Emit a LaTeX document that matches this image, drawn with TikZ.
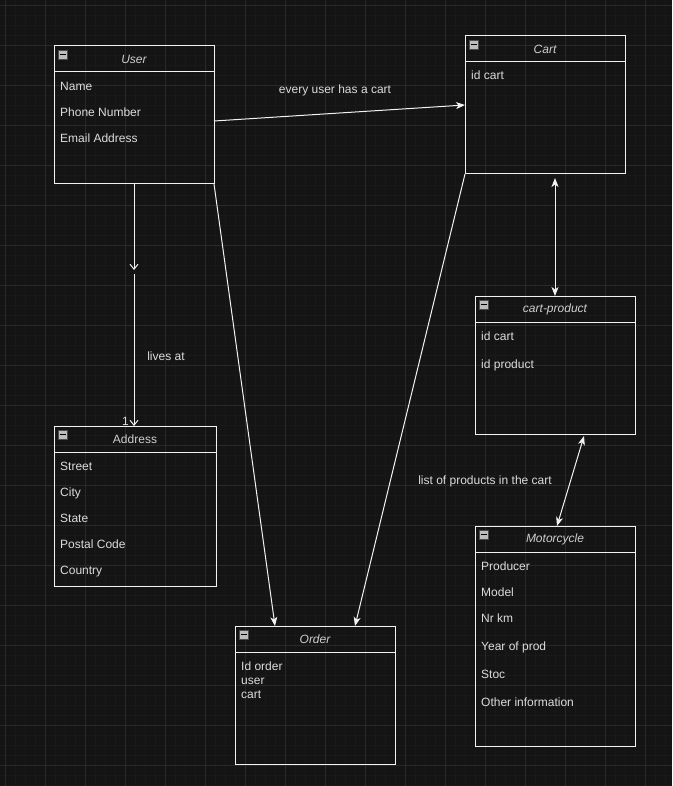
\documentclass[tikz,border=0pt]{standalone}
\usepackage{fontspec}
\setmainfont{Liberation Sans}
\usetikzlibrary{arrows.meta,calc}
\definecolor{bg}{HTML}{141414}
\definecolor{gridminor}{HTML}{191919}
\definecolor{gridmajor}{HTML}{292929}
\definecolor{fg}{HTML}{F2F2F2}
\definecolor{txt}{HTML}{DCDCDC}
\definecolor{ttl}{HTML}{CFCFCF}
\definecolor{icon}{HTML}{BDBDBD}

\tikzset{
  classbox/.style={draw=fg, line width=1pt, rectangle, inner sep=0pt, outer sep=0pt},
  titletext/.style={text=ttl, font=\fontsize{12}{14}\selectfont, inner sep=0pt},
  fieldtext/.style={text=txt, font=\fontsize{12}{14}\selectfont, inner sep=0pt, anchor=base west},
  lbl/.style={text=txt, font=\fontsize{12}{14}\selectfont, inner sep=0pt},
  minusicon/.style={draw=black!70, fill=icon, minimum size=9pt, inner sep=0pt, outer sep=0pt, line width=0.6pt},
  conn/.style={draw=fg, line width=1pt},
  tipfill/.tip={Stealth[length=9pt,width=7pt,inset=2.5pt]},
  tipopen/.tip={Straight Barb[length=5pt,width=8pt,line width=1pt]}
}

\newcommand{\umlbox}[7]{%
  \node[classbox, minimum width=#4pt, minimum height=#5pt, anchor=north west] (#1) at (#2,#3) {};
  \draw[fg, line width=1pt] (#2,#3+26) -- (#2+#4,#3+26);
  \node[titletext] (#1-title) at (#2+#4/2,#3+13) {#6#7};
  \node[minusicon] (#1-icon) at (#2+8.5,#3+8.5) {};
  \draw[black, line width=1.3pt] (#2+5.5,#3+8.5) -- (#2+11.5,#3+8.5);
}
\newcommand{\fld}[4]{\node[fieldtext] (#1) at (#2,#3+4.3) {#4};}

\begin{document}
\begin{tikzpicture}[x=1pt,y=-1pt]
\useasboundingbox (0,0) rectangle (672,786);
\fill[bg] (0,0) rectangle (672,786);
\foreach \g in {5,15,...,785} {
  \draw[gridminor, line width=0.6pt] (\g,0) -- (\g,786);
  \draw[gridminor, line width=0.6pt] (0,\g) -- (672,\g);
}
\foreach \g in {5,45,...,785} {
  \draw[gridmajor, line width=0.8pt] (\g,0) -- (\g,786);
  \draw[gridmajor, line width=0.8pt] (0,\g) -- (672,\g);
}

% classes
\umlbox{user}{54}{46}{160}{138}{\itshape}{User}
\fld{user-f1}{60}{86}{Name}
\fld{user-f2}{60}{112}{Phone Number}
\fld{user-f3}{60}{138}{Email Address}

\umlbox{cart}{465}{36}{160}{138}{\itshape}{Cart}
\fld{cart-f1}{471}{75}{id cart}

\umlbox{cp}{475}{296}{160}{138}{\itshape}{cart-product}
\fld{cp-f1}{481}{336}{id cart}
\fld{cp-f2}{481}{364}{id product}

\umlbox{address}{54}{426}{162}{160}{}{Address}
\fld{addr-f1}{60}{466}{Street}
\fld{addr-f2}{60}{492}{City}
\fld{addr-f3}{60}{518}{State}
\fld{addr-f4}{60}{544}{Postal Code}
\fld{addr-f5}{60}{570}{Country}

\umlbox{moto}{475}{526}{160}{220}{\itshape}{Motorcycle}
\fld{moto-f1}{481}{566}{Producer}
\fld{moto-f2}{481}{592}{Model}
\fld{moto-f3}{481}{618}{Nr km}
\fld{moto-f4}{481}{646}{Year of prod}
\fld{moto-f5}{481}{674}{Stoc}
\fld{moto-f6}{481}{702}{Other information}

\umlbox{order}{235}{626}{160}{138}{\itshape}{Order}
\fld{order-f1}{241}{666}{Id order}
\fld{order-f2}{241}{680}{user}
\fld{order-f3}{241}{694}{cart}

% connectors
\draw[conn, -tipfill] ([yshift=-6pt]user.east) -- (cart.west);
\node[lbl] (l-cart) at (335,90) {every user has a cart};

\coordinate (mid) at (134,270);
\draw[conn, -tipopen] (user.south) -- (mid);
\draw[conn, -tipopen] ([yshift=-4pt]mid) -- (address.north -| mid);
\node[lbl] (l-lives) at (166,356) {lives at};
\node[lbl, anchor=east] (l-one) at (129,421) {1};

\draw[conn, -tipfill] (user.south east) -- ([xshift=-40pt]order.north);
\draw[conn, -tipfill] (cart.south west) -- ([xshift=40pt]order.north);

\draw[conn, tipfill-tipfill] ([xshift=10pt,yshift=-4pt]cart.south) -- (cp.north);
\draw[conn, tipfill-tipfill] ([xshift=29pt,yshift=-2pt]cp.south) -- ([xshift=2pt]moto.north);
\node[lbl] (l-list) at (485,481) {list of products in the cart};
\end{tikzpicture}
\end{document}
